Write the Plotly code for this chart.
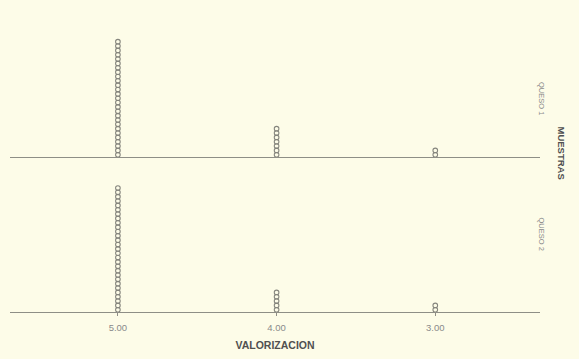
import plotly.graph_objects as go

# Dot plot of tasting scores (VALORIZACION) per cheese sample (MUESTRAS)
valorizacion = [5.00, 4.00, 3.00]
tick_labels = ["5.00", "4.00", "3.00"]
muestras = ["QUESO 1", "QUESO 2"]
queso1_counts = [27, 7, 2]
queso2_counts = [29, 5, 2]

W, H = 579, 359
bg = "#fdfce8"
dot_color = "#85857d"
line_color = "#8e8e86"
font_family = "Liberation Sans, Arial, sans-serif"


def stacked(values, counts):
    xs, ys = [], []
    for v, c in zip(values, counts):
        for k in range(1, c + 1):
            xs.append(v)
            ys.append(k)
    return xs, ys


fig = go.Figure()

# panel layout in pixels -> paper fractions
x0, x1 = 10 / W, 540 / W
panels = {
    "top": (1 - 157 / H, 1 - 5 / H),
    "bottom": (1 - 312 / H, 1 - 160 / H),
}

x_q1, y_q1 = stacked(valorizacion, queso1_counts)
x_q2, y_q2 = stacked(valorizacion, queso2_counts)

marker = dict(symbol="circle-open", size=4.6, color=dot_color, line=dict(width=1.1, color=dot_color))
fig.add_trace(go.Scatter(x=x_q1, y=y_q1, mode="markers", marker=marker,
                         xaxis="x2", yaxis="y2", showlegend=False, hoverinfo="x+y"))
fig.add_trace(go.Scatter(x=x_q2, y=y_q2, mode="markers", marker=marker,
                         xaxis="x", yaxis="y", showlegend=False, hoverinfo="x+y"))

pitch = 4.35  # pixels per stacked dot
top_h = (panels["top"][1] - panels["top"][0]) * H
bot_h = (panels["bottom"][1] - panels["bottom"][0]) * H
y_low = 1 - 2.2 / pitch

xrange = [5.68, 2.34]

fig.update_layout(
    width=W, height=H,
    margin=dict(l=0, r=0, t=0, b=0),
    paper_bgcolor=bg, plot_bgcolor=bg,
    font=dict(family=font_family, color="#777777", size=9),
    xaxis=dict(domain=[x0, x1], range=xrange, anchor="y",
               tickvals=valorizacion, ticktext=tick_labels,
               showline=True, linecolor=line_color, linewidth=1,
               ticks="outside", ticklen=3, tickcolor=line_color,
               ticklabelstandoff=4,
               showgrid=False, zeroline=False,
               tickfont=dict(size=9.5, color="#8a8a8a"),
               title=dict(text="<b>VALORIZACION</b>", font=dict(size=10.5, color="#505050"), standoff=9)),
    yaxis=dict(domain=list(panels["bottom"]), range=[y_low, y_low + bot_h / pitch],
               visible=False),
    xaxis2=dict(domain=[x0, x1], range=xrange, anchor="y2",
                showline=True, linecolor=line_color, linewidth=1,
                showticklabels=False, ticks="", showgrid=False, zeroline=False),
    yaxis2=dict(domain=list(panels["top"]), range=[y_low, y_low + top_h / pitch],
                visible=False),
)

# strip labels for each sample and the facet variable name
fig.add_annotation(text=muestras[0], x=548 / W, y=1 - 80 / H, xref="paper", yref="paper",
                   textangle=90, showarrow=False, font=dict(size=7.5, color="#8a8a8a"))
fig.add_annotation(text=muestras[1], x=548 / W, y=1 - 234 / H, xref="paper", yref="paper",
                   textangle=90, showarrow=False, font=dict(size=7.5, color="#8a8a8a"))
fig.add_annotation(text="<b>MUESTRAS</b>", x=569 / W, y=1 - 153 / H, xref="paper", yref="paper",
                   textangle=90, showarrow=False, font=dict(size=9.5, color="#505050"))

fig.write_html("out.html")
